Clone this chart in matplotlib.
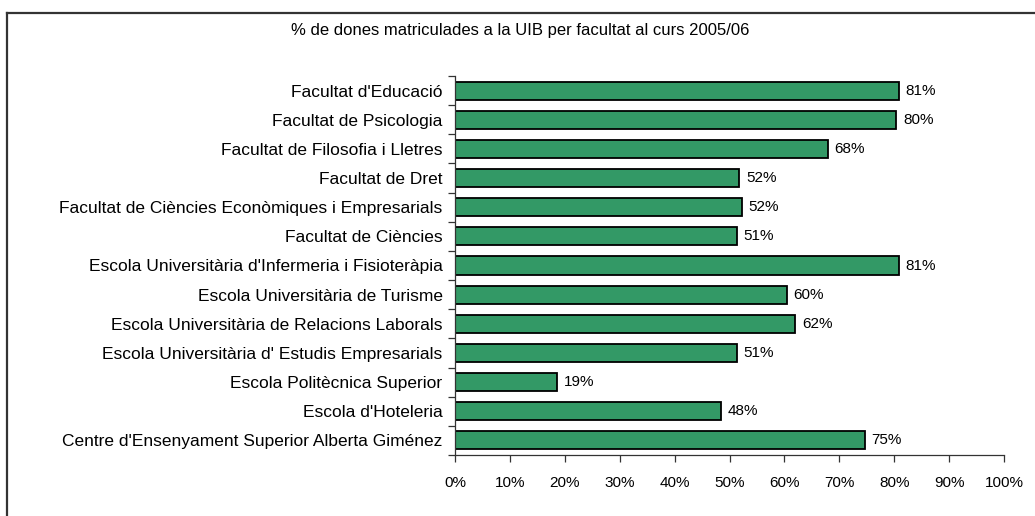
import numpy as np
import matplotlib.pyplot as plt
from matplotlib.lines import Line2D
from matplotlib.ticker import FixedLocator, PercentFormatter

plt.rcParams['font.family'] = ['Liberation Sans', 'DejaVu Sans']

# categories from top to bottom
faculties = [
    "Facultat d'Educació",
    "Facultat de Psicologia",
    "Facultat de Filosofia i Lletres",
    "Facultat de Dret",
    "Facultat de Ciències Econòmiques i Empresarials",
    "Facultat de Ciències",
    "Escola Universitària d'Infermeria i Fisioteràpia",
    "Escola Universitària de Turisme",
    "Escola Universitària de Relacions Laborals",
    "Escola Universitària d' Estudis Empresarials",
    "Escola Politècnica Superior",
    "Escola d'Hoteleria",
    "Centre d'Ensenyament Superior Alberta Giménez",
]
# percentage of women enrolled
women_pct = [80.8, 80.4, 67.9, 51.8, 52.2, 51.4, 80.9, 60.4, 62.0, 51.4, 18.6, 48.4, 74.6]
xticks = [0, 10, 20, 30, 40, 50, 60, 70, 80, 90, 100]

title = "% de dones matriculades a la UIB per facultat al curs 2005/06"

fig = plt.figure(figsize=(10.35, 5.16), dpi=100)
ax = fig.add_axes([455 / 1035, 1 - 455 / 516, (1004 - 455) / 1035, (455 - 76) / 516])

n = len(faculties)
y = np.arange(n)
ax.barh(y, women_pct, height=0.62, color="#339966", edgecolor="black", linewidth=1.3)
for yi, v in zip(y, women_pct):
    ax.text(v + 1.2, yi, f"{v:.0f}%", va="center", ha="left", fontsize=11)

ax.set_xlim(0, 100)
ax.set_ylim(n - 0.5, -0.5)

# category labels at centres, tick marks between categories
ax.yaxis.set_major_locator(FixedLocator(np.arange(n + 1) - 0.5))
ax.yaxis.set_major_formatter(plt.NullFormatter())
ax.yaxis.set_minor_locator(FixedLocator(y))
ax.set_yticklabels(faculties, minor=True, fontsize=12.5)
ax.tick_params(axis="y", which="minor", length=0, pad=9)
ax.tick_params(axis="y", which="major", length=5, width=0.9, color="#333333")

ax.set_xticks(xticks)
ax.xaxis.set_major_formatter(PercentFormatter(decimals=0))
ax.tick_params(axis="x", length=5, width=0.9, color="#333333", labelsize=11, pad=10)

for side in ["top", "right"]:
    ax.spines[side].set_visible(False)
for side in ["left", "bottom"]:
    ax.spines[side].set_color("#333333")
    ax.spines[side].set_linewidth(0.9)

fig.text(520 / 1035, 1 - 30 / 516, title, ha="center", va="center", fontsize=12)

# outer frame (only top and left edges visible)
fig.add_artist(Line2D([7 / 1035, 7 / 1035], [0, 1 - 12.5 / 516], transform=fig.transFigure,
                      color="#333333", linewidth=1.6))
fig.add_artist(Line2D([7 / 1035, 1], [1 - 12.5 / 516, 1 - 12.5 / 516], transform=fig.transFigure,
                      color="#333333", linewidth=1.6))

fig.savefig("out.png", dpi=100)
